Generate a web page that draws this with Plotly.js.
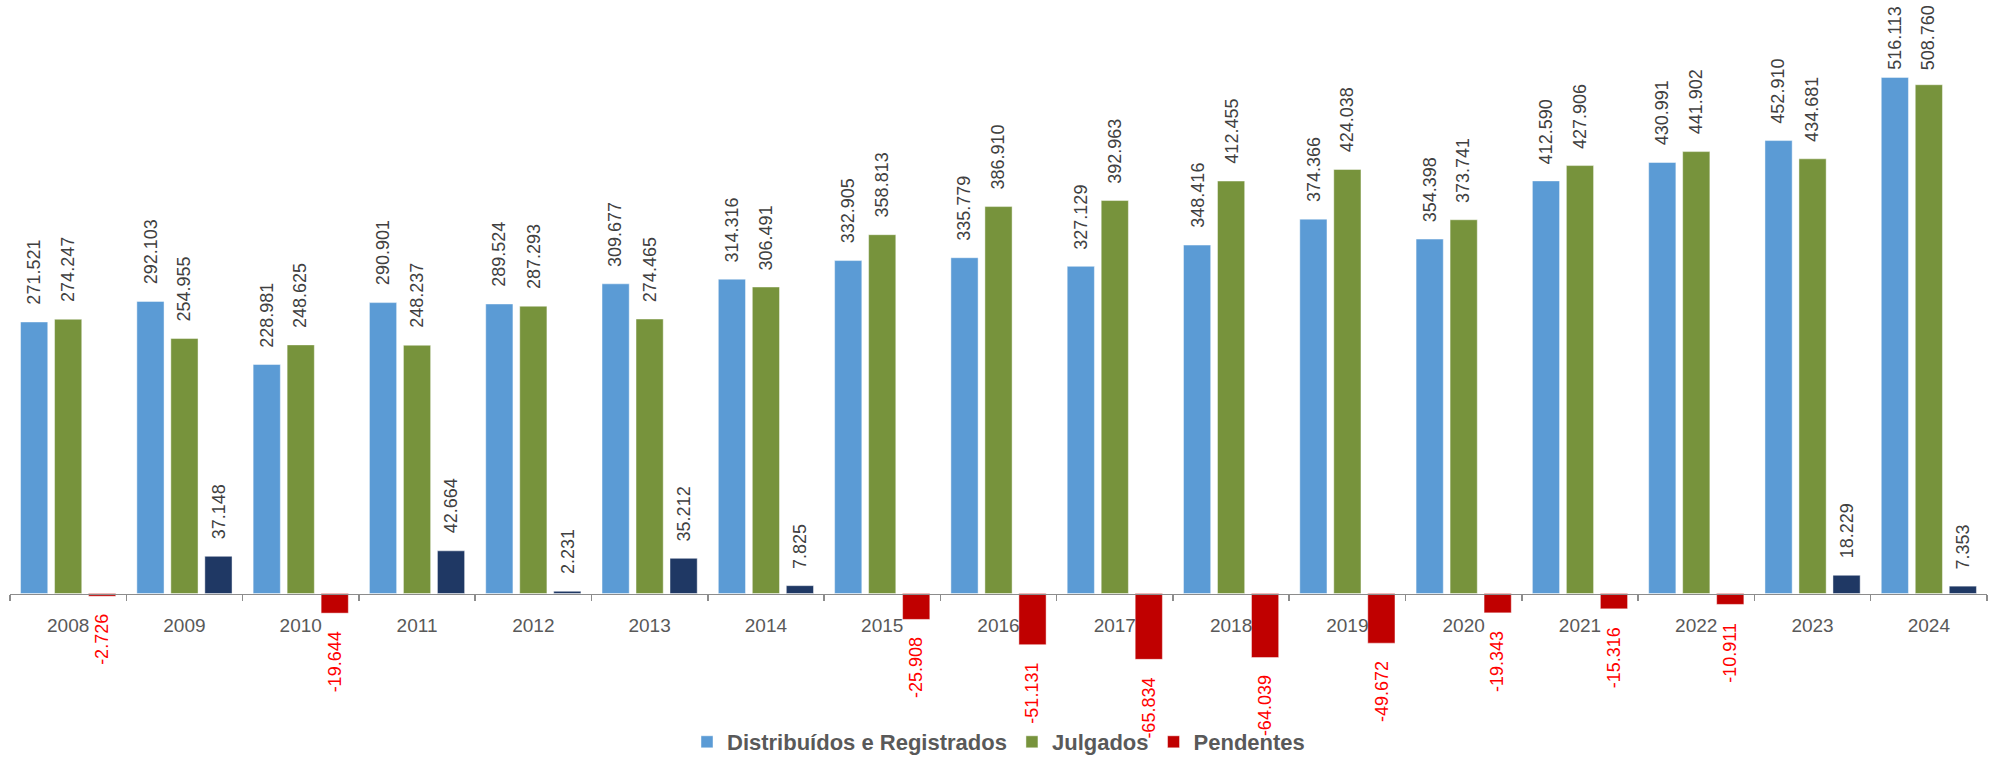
<!DOCTYPE html>
<html>
<head>
<meta charset="utf-8">
<script src="https://cdn.plot.ly/plotly-3.0.1.min.js"></script>
<style>html,body{margin:0;padding:0;background:#fff;}#chart{width:1993px;height:764px;}</style>
</head>
<body>
<div id="chart"></div>
<script>
const years = ['2008','2009','2010','2011','2012','2013','2014','2015','2016','2017','2018','2019','2020','2021','2022','2023','2024'];
const distribuidos = [271521,292103,228981,290901,289524,309677,314316,332905,335779,327129,348416,374366,354398,412590,430991,452910,516113];
const julgados = [274247,254955,248625,248237,287293,274465,306491,358813,386910,392963,412455,424038,373741,427906,441902,434681,508760];
const pendentes = [-2726,37148,-19644,42664,2231,35212,7825,-25908,-51131,-65834,-64039,-49672,-19343,-15316,-10911,18229,7353];
const seriesNames = ['Distribuídos e Registrados','Julgados','Pendentes'];

const FONT = '"Liberation Sans", Arial, sans-serif';
const BLUE = '#5B9BD5', GREEN = '#77933C', NAVY = '#1F3864', RED = '#C00000';

function fmt(v){
  const s = Math.abs(v).toString().replace(/\B(?=(\d{3})+(?!\d))/g, '.');
  return (v < 0 ? '-' : '') + s;
}

const bargap = 0.123;
const slot = (1 - bargap) / 3;
const edge = {color:'rgba(255,255,255,0.45)', width:1};

const traces = [
  {type:'bar', name:seriesNames[0], x:years, y:distribuidos, marker:{color:BLUE, line:edge}, hoverinfo:'skip'},
  {type:'bar', name:seriesNames[1], x:years, y:julgados, marker:{color:GREEN, line:edge}, hoverinfo:'skip'},
  {type:'bar', name:seriesNames[2], x:years, y:pendentes,
   marker:{color:pendentes.map(v => v < 0 ? RED : NAVY), line:edge}, hoverinfo:'skip'}
];

const plotTop = 0, axisY = 593.5, plotBottom = 690;
const pxPerUnit = 1/1000;
const labelLen = 64;

const annotations = [];
[distribuidos, julgados, pendentes].forEach((arr, k) => {
  arr.forEach((v, i) => {
    const neg = v < 0;
    let shift = neg ? -16 : 15;
    if (!neg) {
      const barTop = axisY - v * pxPerUnit;
      const room = barTop - labelLen - 8;
      if (room < shift) shift = Math.max(4, room);
    }
    annotations.push({
      x: i + (k - 1) * slot, y: v, xref:'x', yref:'y',
      text: fmt(v), showarrow:false, textangle:-90,
      xanchor:'center', yanchor: neg ? 'top' : 'bottom',
      yshift: shift,
      font:{family:FONT, size:18, color: neg ? '#FF0000' : '#404040'}
    });
  });
});

const layout = {
  width:1993, height:764,
  margin:{l:10, r:6, t:plotTop, b:764-plotBottom},
  paper_bgcolor:'#fff', plot_bgcolor:'#fff',
  barmode:'group', bargap:bargap, bargroupgap:0.2,
  showlegend:true,
  legend:{orientation:'h', x:0.5, xanchor:'center', y:-(763-plotBottom)/(plotBottom-plotTop), yanchor:'bottom',
          font:{family:FONT, size:22, color:'#595959', weight:'bold'}, itemwidth:30, traceorder:'normal'},
  xaxis:{type:'category', range:[-0.5,16.5], anchor:'free', position:(plotBottom-axisY)/(plotBottom-plotTop),
         showline:true, linecolor:'#8C8C8C', linewidth:1.5,
         ticks:'outside', tickson:'boundaries', ticklen:6, tickcolor:'#8C8C8C', tickwidth:1.5,
         tickfont:{family:FONT, size:19, color:'#595959'}, ticklabelstandoff:14,
         showgrid:false, zeroline:false, fixedrange:true},
  yaxis:{range:[-(plotBottom-axisY)/pxPerUnit, (axisY-plotTop)/pxPerUnit], visible:false, showgrid:false, zeroline:false, fixedrange:true},
  annotations:annotations
};

Plotly.newPlot('chart', traces, layout, {displayModeBar:false, staticPlot:true});
</script>
</body>
</html>
